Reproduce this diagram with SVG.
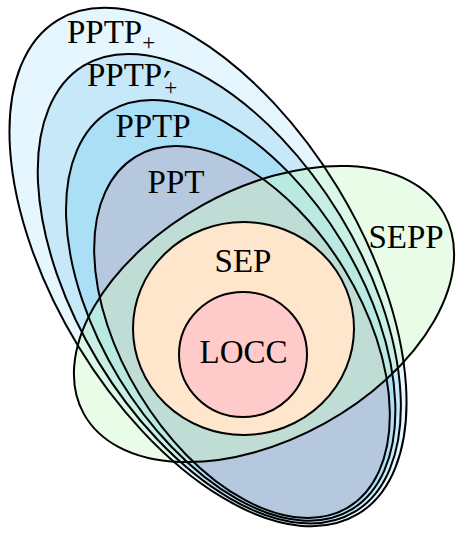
<svg xmlns="http://www.w3.org/2000/svg" xmlns:xlink="http://www.w3.org/1999/xlink" width="456" height="535" viewBox="0 0 456 535">
<style>
.ln{fill:none;stroke:#000;stroke-width:2}
.lbl{font-family:"Liberation Serif","DejaVu Serif",serif;font-size:33px;fill:#000}
.sub{font-family:"Liberation Serif","DejaVu Serif",serif;font-size:23px}
.pr{font-family:"DejaVu Serif",serif;font-size:35px}
</style>
<defs>
<ellipse id="e0" cx="208" cy="267" rx="289" ry="152" transform="rotate(58.7 208 267)"/>
<ellipse id="e1" cx="219.3" cy="288.7" rx="261" ry="141.3" transform="rotate(58.7 219.3 288.7)"/>
<ellipse id="e2" cx="230.7" cy="310.3" rx="233" ry="130.7" transform="rotate(58.7 230.7 310.3)"/>
<ellipse id="e3" cx="242" cy="332" rx="205" ry="120" transform="rotate(58.7 242 332)"/>
<ellipse id="esepp" cx="264" cy="314" rx="206" ry="125" transform="rotate(-29 264 314)"/>
</defs>
<g id="PPTPplus">
<use xlink:href="#e0" href="#e0" fill="#e6f6fe"/>
<text class="lbl" x="67" y="43">PPTP<tspan class="sub" dx="0" dy="7">+</tspan></text>
</g>
<g id="PPTPprimeplus">
<use xlink:href="#e1" href="#e1" fill="#c6e8f8"/>
<text class="lbl" x="87" y="86">PPTP<tspan class="pr" dx="1" dy="11">′</tspan><tspan class="sub" dx="-7" dy="-2">+</tspan></text>
</g>
<g id="PPTP">
<use xlink:href="#e2" href="#e2" fill="#abdff5"/>
<text class="lbl" x="153" y="137" text-anchor="middle">PPTP</text>
</g>
<g id="PPT">
<use xlink:href="#e3" href="#e3" fill="#b6c8de"/>
<text class="lbl" x="176" y="193" text-anchor="middle">PPT</text>
</g>
<g id="SEPP">
<use xlink:href="#esepp" href="#esepp" fill="#cbf8cb" fill-opacity="0.44"/>
<text class="lbl" x="406" y="248" text-anchor="middle">SEPP</text>
</g>
<g id="outlines">
<use xlink:href="#e0" href="#e0" class="ln"/>
<use xlink:href="#e1" href="#e1" class="ln"/>
<use xlink:href="#e2" href="#e2" class="ln"/>
<use xlink:href="#e3" href="#e3" class="ln"/>
<use xlink:href="#esepp" href="#esepp" class="ln"/>
</g>
<g id="SEP">
<ellipse cx="243.5" cy="328.5" rx="110.5" ry="106.5" fill="#fee6cc" stroke="#000" stroke-width="2"/>
<text class="lbl" x="243" y="272" text-anchor="middle">SEP</text>
</g>
<g id="LOCC">
<ellipse cx="243" cy="354.5" rx="64" ry="62.5" fill="#fecaca" stroke="#000" stroke-width="2"/>
<text class="lbl" x="243.5" y="363" text-anchor="middle">LOCC</text>
</g>
<g id="connectors"></g>
</svg>
